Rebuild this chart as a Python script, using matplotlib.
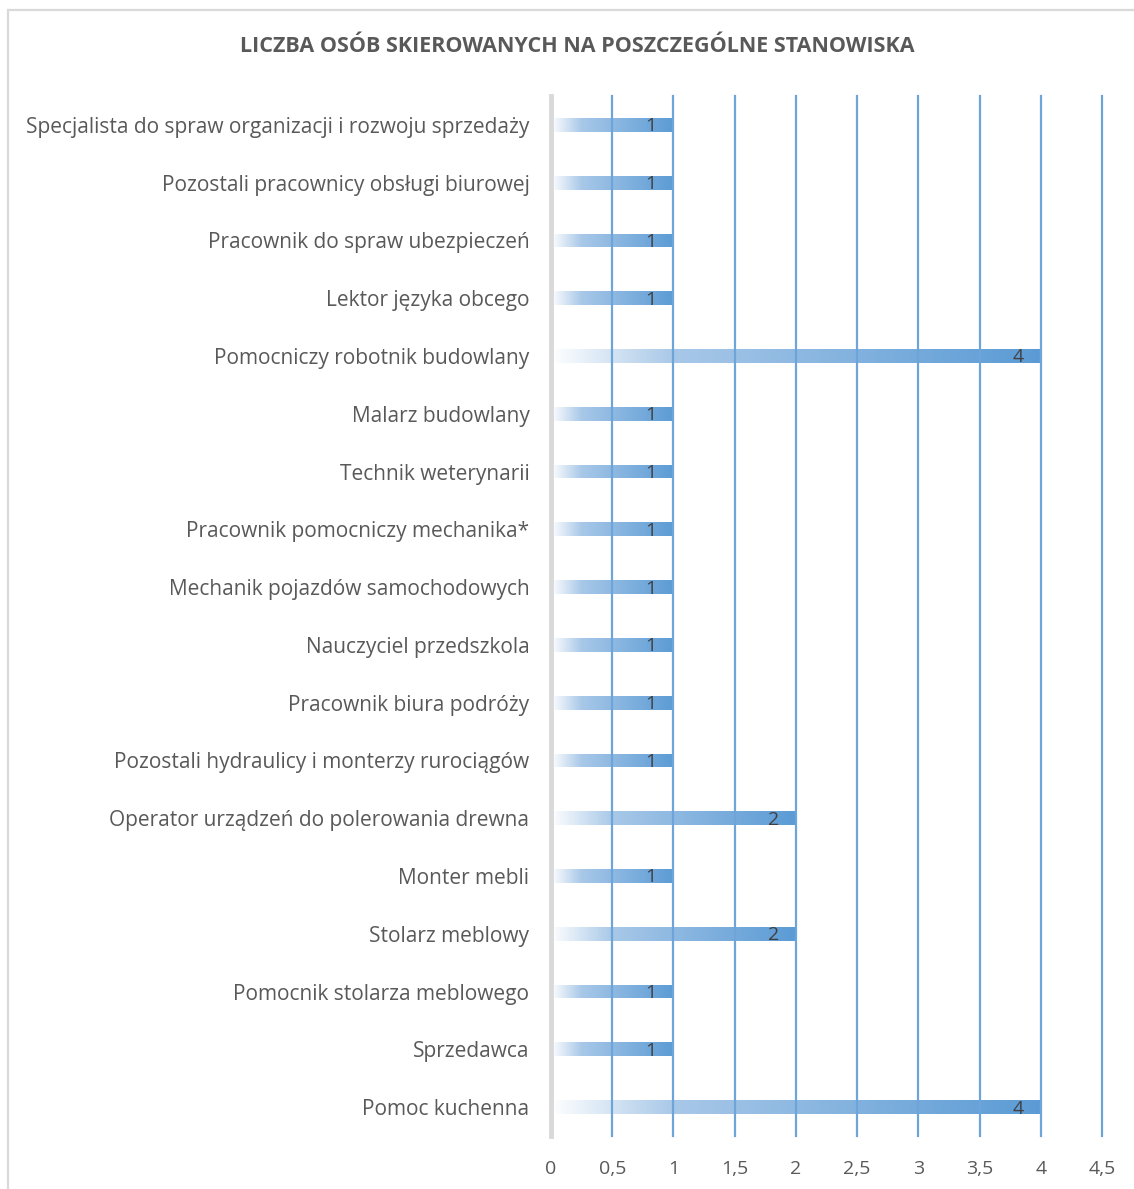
import matplotlib
matplotlib.use("Agg")
import matplotlib.pyplot as plt
import numpy as np
from matplotlib.colors import LinearSegmentedColormap
from matplotlib.patches import Rectangle

categories = [
    "Specjalista do spraw organizacji i rozwoju sprzedaży",
    "Pozostali pracownicy obsługi biurowej",
    "Pracownik do spraw ubezpieczeń",
    "Lektor języka obcego",
    "Pomocniczy robotnik budowlany",
    "Malarz budowlany",
    "Technik weterynarii",
    "Pracownik pomocniczy mechanika*",
    "Mechanik pojazdów samochodowych",
    "Nauczyciel przedszkola",
    "Pracownik biura podróży",
    "Pozostali hydraulicy i monterzy rurociągów",
    "Operator urządzeń do polerowania drewna",
    "Monter mebli",
    "Stolarz meblowy",
    "Pomocnik stolarza meblowego",
    "Sprzedawca",
    "Pomoc kuchenna",
]
values = [1, 1, 1, 1, 4, 1, 1, 1, 1, 1, 1, 1, 2, 1, 2, 1, 1, 4]
xticks = [0, 0.5, 1, 1.5, 2, 2.5, 3, 3.5, 4, 4.5]
xtick_labels = ["0", "0,5", "1", "1,5", "2", "2,5", "3", "3,5", "4", "4,5"]
title = "LICZBA OSÓB SKIEROWANYCH NA POSZCZEGÓLNE STANOWISKA"

FONT = ["Open Sans", "DejaVu Sans"]
plt.rcParams["font.family"] = FONT
TXT = "#595959"
BLUE = "#5b9bd5"

W, H = 1134, 1189
fig = plt.figure(figsize=(W / 100, H / 100), dpi=100)

# outer frame (only top/left visible)
fig.patches.append(Rectangle((8 / W, -0.05), 1.2, 1 - 10 / H + 0.05,
                             transform=fig.transFigure, fill=False,
                             edgecolor="#d9d9d9", linewidth=1.6, zorder=0))

ax = fig.add_axes([551 / W, 1 - 1136 / H, (1102 - 551) / W, (1136 - 96) / H])
n = len(categories)
ypos = np.arange(n)

cmap = LinearSegmentedColormap.from_list(
    "g", [(0, "#ffffff"), (0.25, "#a8c8e8"), (1, BLUE)])
grad = np.linspace(0, 1, 256).reshape(1, -1)
bar_h = 0.24
bars = ax.barh(ypos, values, height=bar_h, color="none", edgecolor="none")
for b in bars:
    x0, y0 = b.get_x(), b.get_y()
    w, h = b.get_width(), b.get_height()
    im = ax.imshow(grad, cmap=cmap, aspect="auto",
                   extent=(x0, x0 + w, y0 + h, y0), zorder=1,
                   interpolation="bilinear")
    im.set_clip_path(b)
ax.set_xlim(0, 4.5)
ax.set_ylim(n - 0.5, -0.5)

for y, v in zip(ypos, values):
    ax.annotate(str(v), (v, y), xytext=(-16, -1), textcoords="offset points",
                ha="center", va="center", fontsize=14, color="#404040",
                zorder=3)

for xt in xticks[1:]:
    ax.axvline(xt, color="#6ea5d9", linewidth=1.6, zorder=2, clip_on=False)
ax.axvline(0, color="#d9d9d9", linewidth=3.5, zorder=2, clip_on=False)

for s in ax.spines.values():
    s.set_visible(False)
ax.set_yticks(ypos)
ax.set_yticklabels(categories, fontsize=15, color=TXT)
ax.set_xticks(xticks)
ax.set_xticklabels(xtick_labels, fontsize=14, color=TXT)
ax.tick_params(axis="both", length=0)
ax.tick_params(axis="y", pad=15.5)
ax.tick_params(axis="x", pad=17)

fig.text(577 / W, 1 - 47 / H, title, ha="center", va="center",
         fontsize=15.5, fontweight="bold", color=TXT)

fig.savefig("out.png", dpi=100)
